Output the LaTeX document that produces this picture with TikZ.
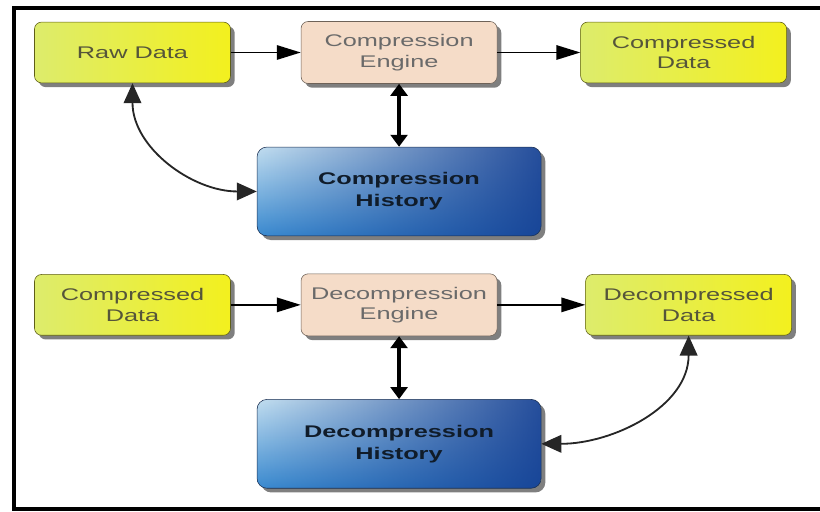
\documentclass[tikz,border=0pt]{standalone}
\usepackage{fontspec}
\setmainfont{Liberation Sans}[FakeStretch=1.5]
\usepackage{xcolor}
\usepackage{tikz}
\usetikzlibrary{arrows.meta, positioning, shadows, fadings}

\definecolor{yelL}{HTML}{DDEC6C}
\definecolor{yelR}{HTML}{F3F01E}
\definecolor{yelD}{HTML}{5E5E18}
\definecolor{yelT}{HTML}{55553A}
\definecolor{peach}{HTML}{F5DCC8}
\definecolor{peachD}{HTML}{6E6258}
\definecolor{engT}{HTML}{6A6A6A}
\definecolor{bluL}{HTML}{C2DEF0}
\definecolor{bluM}{HTML}{3A8AD0}
\definecolor{bluR}{HTML}{143E92}
\definecolor{bluD}{HTML}{1A2E50}
\definecolor{bluT}{HTML}{101C2A}

\tikzfading[name=toright, left color=transparent!100, right color=transparent!10]

\begin{document}
\begin{tikzpicture}[
    node distance=1.5cm and 1.75cm,
    font=\fontsize{12}{14.5}\selectfont,
    databox/.style={draw=yelD, rounded corners=5pt, minimum width=4.9cm,
                minimum height=1.52cm, align=center, text=yelT,
                left color=yelL, right color=yelR,
                drop shadow={shadow xshift=3pt, shadow yshift=-3pt, fill=black, opacity=0.5}},
    engbox/.style={draw=peachD, rounded corners=5pt, minimum width=4.9cm,
                minimum height=1.55cm, align=center, text=engT, fill=peach,
                drop shadow={shadow xshift=3pt, shadow yshift=-3pt, fill=black, opacity=0.5}},
    histbox/.style={draw=bluD, rounded corners=7pt, minimum width=7.1cm,
                minimum height=2.22cm, align=center, text=bluT,
                font=\fontsize{12}{15.5}\selectfont\bfseries,
                top color=bluL, bottom color=bluM,
                path picture={\fill[bluR, path fading=toright]
                    (path picture bounding box.south west) rectangle (path picture bounding box.north east);},
                drop shadow={shadow xshift=3pt, shadow yshift=-3pt, fill=black, opacity=0.5}},
    arr/.style={-{Triangle[length=6mm, width=3.6mm]}, line width=1.3pt},
    varr/.style={{Triangle[length=3mm, width=4.2mm]}-{Triangle[length=3mm, width=4.2mm]}, line width=2.4pt},
    carr/.style={{Triangle[length=5mm, width=4.4mm]}-{Triangle[length=5mm, width=4.4mm]}, line width=1.3pt, draw=black!85},
]
    \useasboundingbox (0,0) rectangle (20.5,-12.8);

    % Frame
    \draw[line width=2.5pt] (20.5,-0.2) -- (0.35,-0.2) -- (0.35,-12.72) -- (20.5,-12.72);

    % Compression
    \node[databox] (raw) at (3.3125,-1.3125) {Raw Data};
    \node[engbox, right=of raw] (ceng) {Compression\\Engine};
    \node[databox, minimum width=5.15cm, right=2.075cm of ceng] (cdata) {Compressed\\Data};
    \node[histbox, below=1.575cm of ceng] (chist) {Compression\\History};

    % Decompression
    \node[databox, below=4.775cm of raw] (cin) {Compressed\\Data};
    \node[engbox, right=of cin] (deng) {Decompression\\Engine};
    \node[databox, minimum width=5.15cm, right=2.2cm of deng] (ddata) {Decompressed\\Data};
    \node[histbox, below=1.575cm of deng] (dhist) {Decompression\\History};

    % Arrows
    \draw[arr] (raw) -- (ceng);
    \draw[arr] (ceng) -- (cdata);
    \draw[varr] (ceng) -- (ceng |- chist.north);
    \draw[carr] (raw.south) to[out=-90, in=180] (chist.west);

    \draw[arr] (cin) -- (deng);
    \draw[arr] (deng) -- (ddata);
    \draw[varr] (deng) -- (deng |- dhist.north);
    \draw[carr] (ddata.south) to[out=-90, in=0] (dhist.east);
\end{tikzpicture}
\end{document}
